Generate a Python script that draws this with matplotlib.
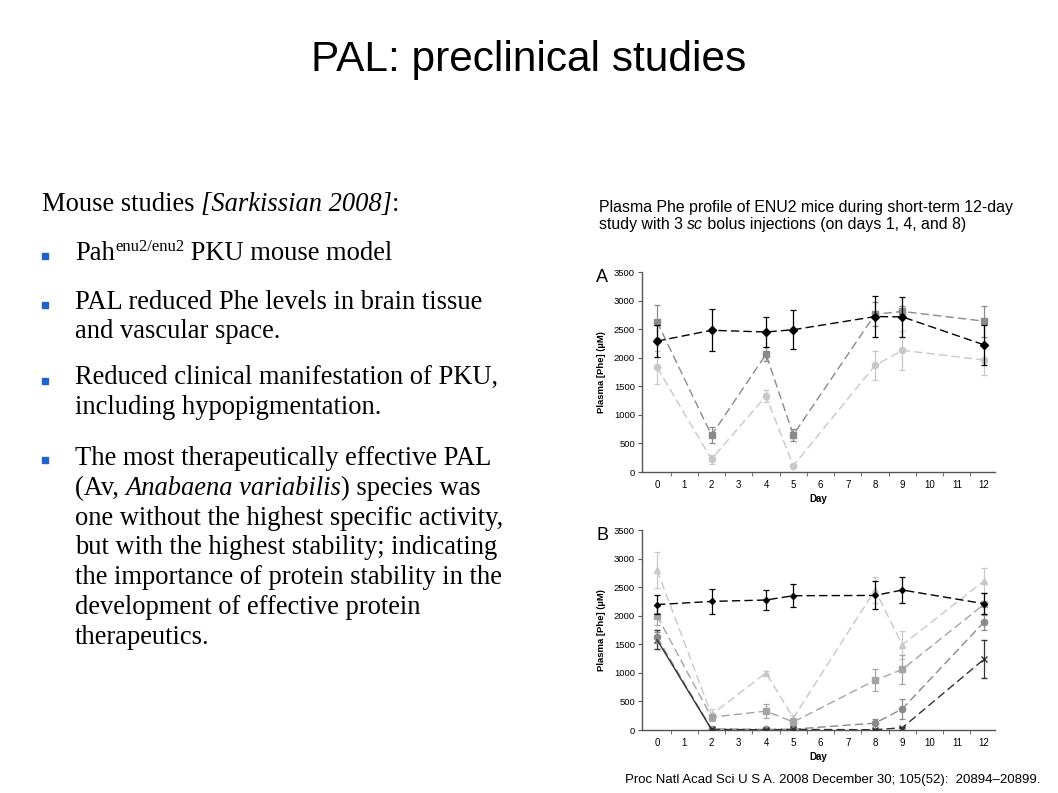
import matplotlib
matplotlib.use("Agg")
import matplotlib.pyplot as plt
import numpy as np

# ---------------- data ----------------
days = [0, 2, 4, 5, 8, 9, 12]
xticks_labels = list(range(0, 13))

# Panel A
a_black = [2290, 2480, 2450, 2490, 2720, 2715, 2225]
a_black_err = [280, 365, 265, 340, 360, 350, 350]
a_sq = [2630, 645, 2060, 650, 2760, 2810, 2640]
a_sq_err = [290, 140, 120, 110, 210, 100, 270]
a_circ = [1830, 225, 1330, 110, 1865, 2130, 1960]
a_circ_err = [290, 80, 100, 30, 260, 340, 260]

# Panel B
b_black = [2195, 2250, 2275, 2350, 2355, 2450, 2210]
b_black_err = [160, 220, 170, 200, 245, 220, 180]
b_tri = [2800, 270, 1000, 210, 2450, 1490, 2610]
b_tri_err = [310, 100, 30, 60, 230, 250, 220]
b_sq = [2000, 225, 330, 140, 870, 1060, 2200]
b_sq_err = [170, 60, 120, 70, 190, 260, 190]
b_circ = [1620, 20, 10, 15, 120, 370, 1890]
b_circ_err = [100, 10, 10, 10, 80, 170, 140]
b_x = [1580, 10, 5, 10, 5, 40, 1240]
b_x_err = [170, 5, 5, 5, 5, 10, 330]

title = "PAL: preclinical studies"
citation = "Proc Natl Acad Sci U S A. 2008 December 30; 105(52):  20894\u201320899."

W, H = 1058, 793
fig = plt.figure(figsize=(W / 100, H / 100), dpi=100)
fig.patch.set_facecolor("white")
renderer = fig.canvas.get_renderer()


def px(x, y):
    return x / W, 1 - y / H


def rich(x, y, parts, fontsize, family, va="baseline"):
    """parts: list of (text, style dict). Place consecutively."""
    cx = x
    for t, st in parts:
        kw = dict(fontsize=fontsize, family=family)
        kw.update(st)
        dy = kw.pop("dy", 0)
        tx = fig.text(cx / W, 1 - (y - dy) / H, t, ha="left", va=va, **kw)
        bb = tx.get_window_extent(renderer)
        cx += bb.width


# Title
fig.text(*px(529, 60), title, ha="center", va="center",
         fontsize=30.5, family="Liberation Sans", color="black")

serif = "Liberation Serif"
fs = 19.1
blue = "#1f63c6"

# baselines (px)
rich(42, 211, [("Mouse studies ", {}), ("[Sarkissian 2008]", {"style": "italic"}), (":", {})], fs, serif)
rich(75, 260, [("Pah", {}), ("enu2/enu2", {"fontsize": 12, "dy": 9}), (" PKU mouse model", {})], fs, serif)

lines = [
    (309, [("PAL reduced Phe levels in brain tissue", {})]),
    (338, [("and vascular space.", {})]),
    (384, [("Reduced clinical manifestation of PKU,", {})]),
    (414, [("including hypopigmentation.", {})]),
    (465, [("The most therapeutically effective PAL", {})]),
    (495, [("(Av, ", {}), ("Anabaena variabilis", {"style": "italic"}), (") species was", {})]),
    (525, [("one without the highest specific activity,", {})]),
    (554, [("but with the highest stability; indicating", {})]),
    (584, [("the importance of protein stability in the", {})]),
    (614, [("development of effective protein", {})]),
    (644, [("therapeutics.", {})]),
]
for y, parts in lines:
    rich(75, y, parts, fs, serif)

for y in [256, 305, 381, 460]:
    fig.patches.append(plt.Rectangle(px(42, y + 3), 6 / W, 6 / H,
                                     transform=fig.transFigure, color=blue))

cap_fs = 11.4
rich(599, 212, [("Plasma Phe profile of ENU2 mice during short-term 12-day", {})], cap_fs, "Liberation Sans")
rich(599, 229, [("study with 3 ", {}), ("sc", {"style": "italic"}),
                (" bolus injections (on days 1, 4, and 8)", {})], cap_fs, "Liberation Sans")
fig.text(*px(625, 780), citation, ha="left", va="center", fontsize=9.5,
         family="Liberation Sans")


def style_axes(ax, letter, ly):
    ax.set_xlim(-0.55, 12.4)
    ax.set_ylim(0, 3500)
    ax.set_yticks(range(0, 3501, 500))
    ax.set_xticks(xticks_labels)
    ax.set_xticklabels([str(v) for v in xticks_labels])
    ax.set_xticks(np.arange(0.5, 12.5, 1), minor=True)
    ax.tick_params(axis="x", which="major", length=0, labelsize=7, pad=6)
    ax.tick_params(axis="x", which="minor", length=3, color="#555555", direction="out")
    ax.tick_params(axis="y", labelsize=6.8, length=3, color="#555555", pad=2)
    for lab in ax.get_xticklabels() + ax.get_yticklabels():
        lab.set_family("Liberation Sans")
    for s in ["top", "right"]:
        ax.spines[s].set_visible(False)
    for s in ["left", "bottom"]:
        ax.spines[s].set_color("#555555")
        ax.spines[s].set_linewidth(1.0)
    ax.set_xlabel("Day", fontsize=7, fontweight="bold", labelpad=3, family="Liberation Sans")
    ax.set_ylabel("Plasma [Phe] (\u00b5M)", fontsize=6.8, fontweight="bold", labelpad=6,
                  family="Liberation Sans")
    fig.text(*px(596, ly), letter, fontsize=13, ha="left", va="center",
             family="Liberation Sans")


def series(ax, y, err, color, marker, ms, ls=(0, (6, 3)), z=3):
    ax.errorbar(days, y, yerr=err, color=color, ecolor=color, marker=marker,
                markersize=ms, linestyle=ls, linewidth=1.0, elinewidth=0.9,
                capsize=2.5, capthick=0.9, zorder=z)


axA = fig.add_axes([642 / W, 1 - 472 / H, 353 / W, 200 / H])
series(axA, a_circ, a_circ_err, "#c8c8c8", "o", 4.5, z=2)
series(axA, a_sq, a_sq_err, "#8a8a8a", "s", 4.5, z=3)
series(axA, a_black, a_black_err, "black", "D", 4, z=4)
style_axes(axA, "A", 277)

axB = fig.add_axes([642 / W, 1 - 730 / H, 353 / W, 200 / H])
series(axB, b_tri, b_tri_err, "#c8c8c8", "^", 4.5, z=2)
series(axB, b_sq, b_sq_err, "#a4a4a4", "s", 4.5, z=3)
series(axB, b_circ, b_circ_err, "#8a8a8a", "o", 4.5, z=4)
# x series: solid first segment, dashed afterwards
axB.plot(days[:2], b_x[:2], color="#333333", linewidth=1.0, zorder=5)
axB.errorbar(days[1:], b_x[1:], yerr=b_x_err[1:], color="#333333", marker="x",
             markersize=4, linestyle=(0, (6, 3)), linewidth=1.0, elinewidth=0.9,
             capsize=2.5, zorder=5)
axB.errorbar(days[:1], b_x[:1], yerr=b_x_err[:1], color="#333333", marker="x",
             markersize=4, linestyle="none", elinewidth=0.9, capsize=2.5, zorder=3.5)
series(axB, b_black, b_black_err, "black", "D", 3, z=6)
style_axes(axB, "B", 536)

fig.savefig("out.png", dpi=100, facecolor="white")
